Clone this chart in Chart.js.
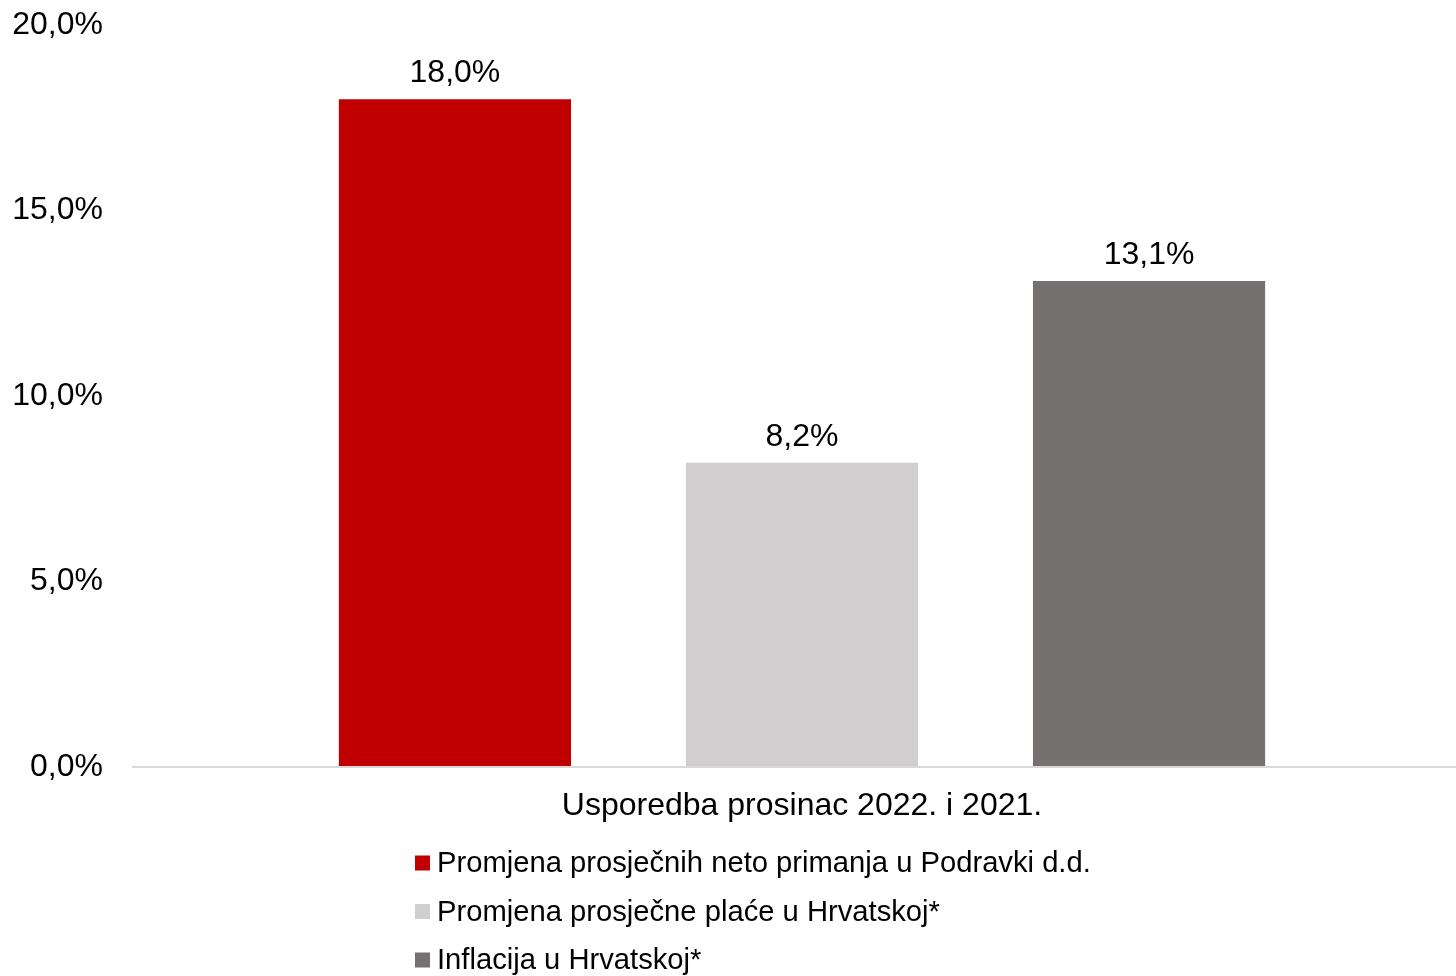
<!DOCTYPE html>
<html>
<head>
<meta charset="utf-8">
<script src="https://cdn.jsdelivr.net/npm/chart.js@4.4.0/dist/chart.umd.min.js"></script>
<style>
  html, body { margin: 0; padding: 0; background: #fff; }
  #wrap { width: 1456px; height: 976px; position: relative; }
</style>
</head>
<body>
<div id="wrap"><canvas id="c" width="1456" height="976"></canvas></div>
<script>
const categories = ['Usporedba prosinac 2022. i 2021.'];
const seriesNames = [
  'Promjena prosječnih neto primanja u Podravki d.d.',
  'Promjena prosječne plaće u Hrvatskoj*',
  'Inflacija u Hrvatskoj*'
];
const seriesValues = [[18.0], [8.2], [13.1]];
const seriesColors = ['#C00000', '#D0CECE', '#767171'];
const yTicks = [0, 5, 10, 15, 20];

const FONT = '"Liberation Sans", Arial, sans-serif';
const fmt = v => v.toFixed(1).replace('.', ',') + '%';

const valueLabels = {
  id: 'valueLabels',
  afterDatasetsDraw(chart) {
    const ctx = chart.ctx;
    ctx.save();
    ctx.font = '32px ' + FONT;
    ctx.fillStyle = '#000';
    ctx.textAlign = 'center';
    ctx.textBaseline = 'alphabetic';
    chart.data.datasets.forEach((ds, i) => {
      const meta = chart.getDatasetMeta(i);
      meta.data.forEach((bar, j) => {
        ctx.fillText(fmt(ds.data[j]), bar.x, bar.y - 17);
      });
    });
    ctx.restore();
  }
};

const listLegend = {
  id: 'listLegend',
  afterDraw(chart) {
    const ctx = chart.ctx;
    ctx.save();
    ctx.font = '29.2px ' + FONT;
    ctx.textBaseline = 'middle';
    ctx.textAlign = 'left';
    const x0 = 415, y0 = 863, step = 48.5, box = 15;
    chart.data.datasets.forEach((ds, i) => {
      const y = y0 + i * step;
      ctx.fillStyle = ds.backgroundColor;
      ctx.fillRect(x0, y - box / 2, box, box);
      ctx.fillStyle = '#000';
      ctx.fillText(ds.label, x0 + 22, y + 1);
    });
    ctx.restore();
  }
};

new Chart(document.getElementById('c'), {
  type: 'bar',
  data: {
    labels: categories,
    datasets: seriesNames.map((n, i) => ({
      label: n,
      data: seriesValues[i],
      backgroundColor: seriesColors[i],
      borderWidth: 0
    }))
  },
  options: {
    responsive: false,
    animation: false,
    devicePixelRatio: 1,
    layout: { padding: { top: 0, bottom: 149, left: 0, right: 0 } },
    datasets: { bar: { categoryPercentage: 0.796, barPercentage: 0.669 } },
    scales: {
      x: {
        grid: { display: false, drawTicks: false },
        border: { display: false },
        ticks: { color: '#000', font: { family: FONT, size: 32 }, padding: 20 },
        afterFit(scale) { scale.height = 60; }
      },
      y: {
        min: 0, max: 20,
        afterBuildTicks(scale) { scale.ticks = yTicks.map(v => ({ value: v })); },
        border: { display: false },
        grid: {
          color: ctx => ctx.tick && ctx.tick.value === 0 ? '#d9d9d9' : 'rgba(0,0,0,0)',
          lineWidth: 2,
          drawTicks: true,
          tickLength: 16
        },
        ticks: {
          color: '#000',
          font: { family: FONT, size: 32 },
          padding: 29,
          callback: v => fmt(v)
        },
        afterFit(scale) { scale.width = 148; scale.paddingTop = 25; scale.paddingBottom = 0; }
      }
    },
    plugins: {
      legend: { display: false },
      tooltip: { enabled: false }
    }
  },
  plugins: [valueLabels, listLegend]
});
</script>
</body>
</html>
